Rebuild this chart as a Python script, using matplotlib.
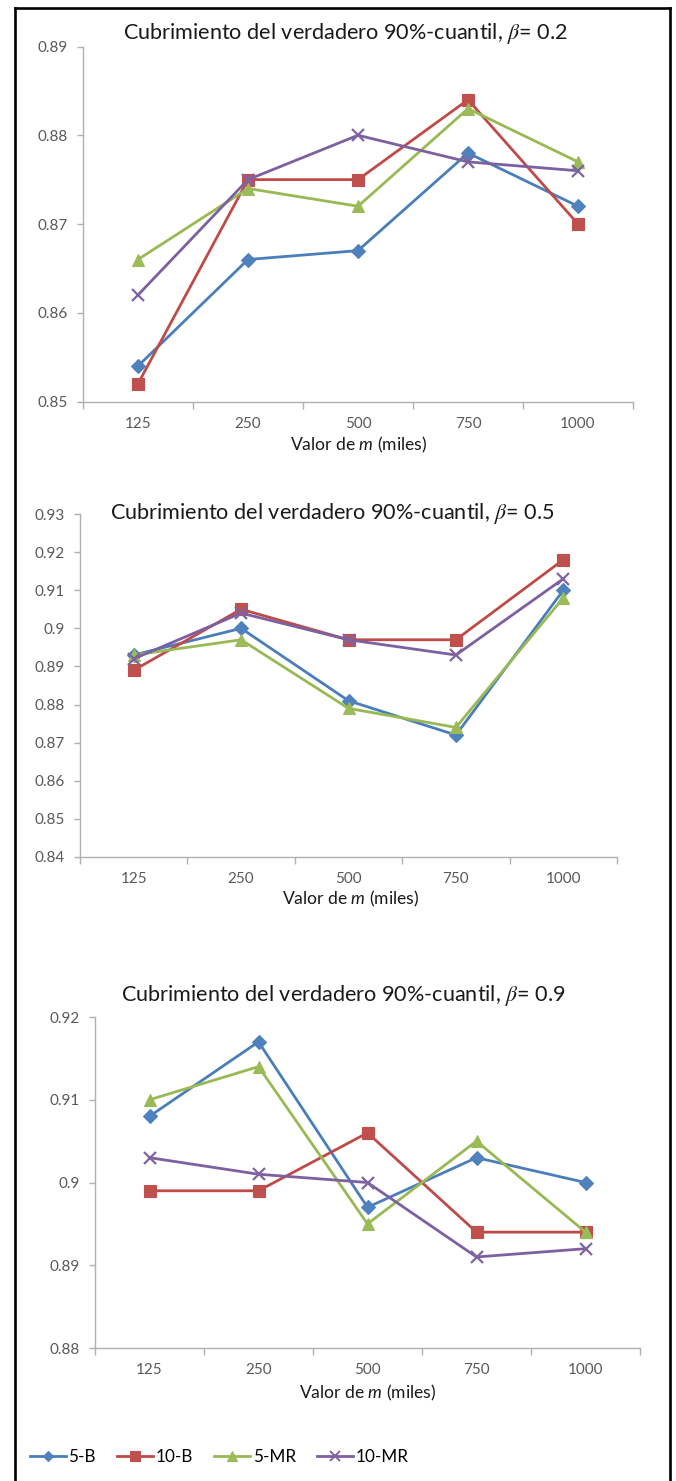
import matplotlib
matplotlib.use("Agg")
import matplotlib.pyplot as plt
from matplotlib.lines import Line2D

plt.rcParams['font.family'] = ['Lato', 'DejaVu Sans']
plt.rcParams['mathtext.fontset'] = 'custom'
plt.rcParams['mathtext.rm'] = 'Lato'
plt.rcParams['mathtext.it'] = 'Lato:italic'
plt.rcParams['mathtext.bf'] = 'STIXGeneral:italic'
plt.rcParams['mathtext.fallback'] = 'stix'

# ---- data -------------------------------------------------------------
m_values = ['125', '250', '500', '750', '1000']
series_names = ['5-B', '10-B', '5-MR', '10-MR']

b02_5B = [0.854, 0.866, 0.867, 0.878, 0.872]
b02_10B = [0.852, 0.875, 0.875, 0.884, 0.870]
b02_5MR = [0.866, 0.874, 0.872, 0.883, 0.877]
b02_10MR = [0.862, 0.875, 0.880, 0.877, 0.876]

b05_5B = [0.893, 0.900, 0.881, 0.872, 0.910]
b05_10B = [0.889, 0.905, 0.897, 0.897, 0.918]
b05_5MR = [0.893, 0.897, 0.879, 0.874, 0.908]
b05_10MR = [0.892, 0.904, 0.897, 0.893, 0.913]

b09_5B = [0.908, 0.917, 0.897, 0.903, 0.900]
b09_10B = [0.899, 0.899, 0.906, 0.894, 0.894]
b09_5MR = [0.910, 0.914, 0.895, 0.905, 0.894]
b09_10MR = [0.903, 0.901, 0.900, 0.891, 0.892]

ticks_b02 = [0.85, 0.86, 0.87, 0.88, 0.89]
labels_b02 = ['0.85', '0.86', '0.87', '0.88', '0.89']
ticks_b05 = [0.84, 0.85, 0.86, 0.87, 0.88, 0.89, 0.90, 0.91, 0.92, 0.93]
labels_b05 = ['0.84', '0.85', '0.86', '0.87', '0.88', '0.89', '0.9', '0.91', '0.92', '0.93']
ticks_b09 = [0.88, 0.89, 0.90, 0.91, 0.92]
labels_b09 = ['0.88', '0.89', '0.9', '0.91', '0.92']

title_tpl = r'Cubrimiento del verdadero 90%-cuantil, $\mathbf{\beta}$= {}'
xlabel_text = r'Valor de $m$ (miles)'

# ---- styling ----------------------------------------------------------
line_colors = ['#4A7EBB', '#BE4B48', '#98B954', '#7D60A0']
face_colors = ['#4F81BD', '#C0504D', '#9BBB59', '#8064A2']
markers = ['D', 's', '^', 'x']
msizes = [7, 8.5, 8.5, 8.5]
axis_grey = '#B0B0B0'
tick_text = '#595959'

W, H = 676, 1481
fig = plt.figure(figsize=(W / 100, H / 100), dpi=100)


def rect(x0, y0, x1, y1):
    return [x0 / W, 1 - y1 / H, (x1 - x0) / W, (y1 - y0) / H]


def fx(x):
    return x / W


def fy(y):
    return 1 - y / H


def draw_panel(box, series, ticks, tick_labels, beta, title_xy, xlabel_xy):
    ax = fig.add_axes(rect(*box))
    xs = range(len(m_values))
    for vals, lc, fc, mk, ms in zip(series, line_colors, face_colors, markers, msizes):
        ax.plot(xs, vals, color=lc, lw=2.0, marker=mk, markersize=ms,
                markerfacecolor=fc, markeredgecolor=fc,
                markeredgewidth=1.6 if mk == 'x' else 0.8, zorder=3)
    ax.set_xlim(-0.5, len(m_values) - 0.5)
    ax.set_ylim(ticks[0], ticks[-1])
    ax.set_yticks(ticks)
    ax.set_yticklabels(tick_labels)
    ax.set_xticks(list(xs))
    ax.set_xticklabels(m_values)
    ax.set_xticks([i - 0.5 for i in range(len(m_values) + 1)], minor=True)
    ax.tick_params(axis='x', which='major', length=0, pad=11,
                   labelsize=11, labelcolor=tick_text)
    ax.tick_params(axis='x', which='minor', length=5, width=1,
                   color=axis_grey, direction='out')
    ax.tick_params(axis='y', which='major', length=4, width=1,
                   color=axis_grey, direction='out', pad=7,
                   labelsize=11, labelcolor=tick_text)
    for side in ('top', 'right'):
        ax.spines[side].set_visible(False)
    for side in ('left', 'bottom'):
        ax.spines[side].set_color(axis_grey)
        ax.spines[side].set_linewidth(1.0)
    ax.patch.set_alpha(0)
    fig.text(fx(title_xy[0]), fy(title_xy[1]),
             title_tpl.replace('{}', beta),
             ha='center', va='center', fontsize=15.6, color='#1a1a1a')
    fig.text(fx(xlabel_xy[0]), fy(xlabel_xy[1]), xlabel_text,
             ha='center', va='center', fontsize=12.6, color='#1a1a1a')
    return ax


draw_panel((83, 46.5, 633, 401.5),
           [b02_5B, b02_10B, b02_5MR, b02_10MR],
           ticks_b02, labels_b02, '0.2', (345, 33), (359, 445))
draw_panel((80, 514, 617, 857),
           [b05_5B, b05_10B, b05_5MR, b05_10MR],
           ticks_b05, labels_b05, '0.5', (332, 514), (351, 899))
draw_panel((95, 1017, 640, 1348),
           [b09_5B, b09_10B, b09_5MR, b09_10MR],
           ticks_b09, labels_b09, '0.9', (343, 995), (368, 1393))

# shared legend along the bottom
handles = [Line2D([0], [0], color=lc, lw=2.0, marker=mk, markersize=ms * 0.8,
                  markerfacecolor=fc, markeredgecolor=fc,
                  markeredgewidth=1.4 if mk == 'x' else 0.8)
           for lc, fc, mk, ms in zip(line_colors, face_colors, markers, msizes)]
fig.legend(handles, series_names, loc='center left',
           bbox_to_anchor=(fx(30), fy(1457)), ncol=4, frameon=False,
           fontsize=12.3, handlelength=2.1, handletextpad=0.15,
           columnspacing=1.25, borderpad=0, borderaxespad=0, numpoints=1)

# outer frame (open at the bottom edge of the page)
frame_kw = dict(color='black', lw=1.9, solid_capstyle='projecting',
                transform=fig.transFigure)
fig.add_artist(Line2D([fx(14.8), fx(14.8)], [fy(7.7), fy(H + 5)], **frame_kw))
fig.add_artist(Line2D([fx(670.3), fx(670.3)], [fy(7.7), fy(H + 5)], **frame_kw))
fig.add_artist(Line2D([fx(14.8), fx(670.3)], [fy(7.7), fy(7.7)], **frame_kw))

fig.savefig('out.png', dpi=100)
